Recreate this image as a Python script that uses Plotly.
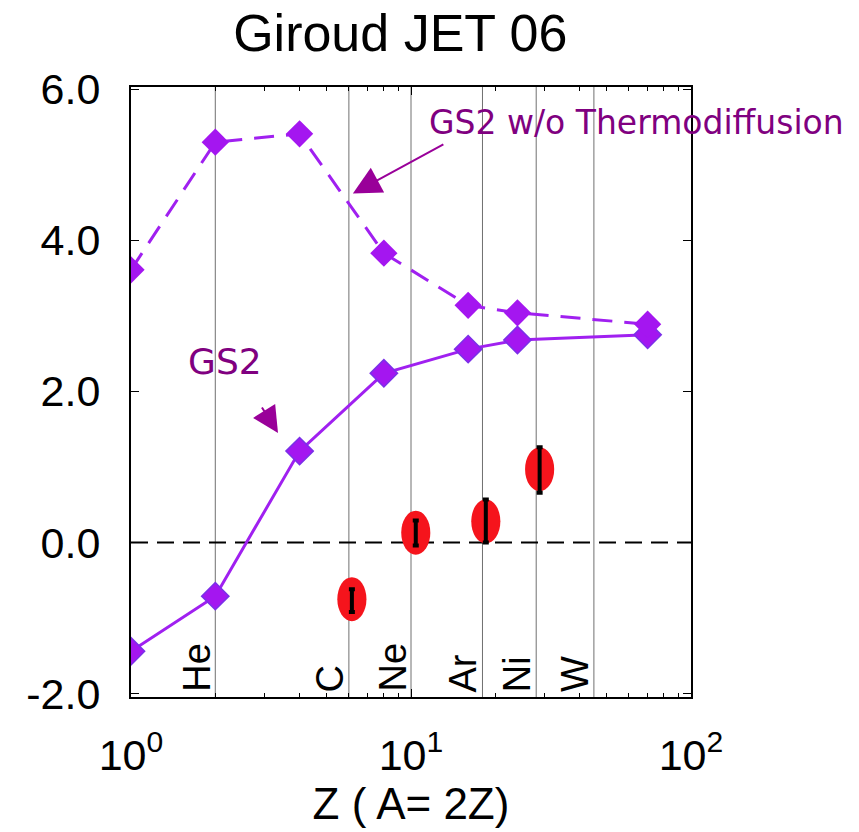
import numpy as np
import plotly.graph_objects as go

# ---------------- data ----------------
title_text = "Giroud JET 06"
x_title = "Z ( A= 2Z)"

z_model = [1, 2, 4, 8, 16, 24, 70]
gs2 = [-1.44, -0.71, 1.21, 2.24, 2.56, 2.68, 2.75]
gs2_no_td = [3.61, 5.30, 5.41, 3.83, 3.14, 3.04, 2.89]

exp_z = [6.15, 10.4, 18.5, 28.8]
exp_val = [-0.75, 0.13, 0.28, 0.97]
exp_hi = [-0.62, 0.29, 0.57, 1.26]
exp_lo = [-0.92, -0.04, 0.0, 0.66]

elements = ["He", "C", "Ne", "Ar", "Ni", "W"]
element_z = [2, 6, 10, 18, 28, 45]

x_tickvals = [1, 10, 100]
x_ticktext = ["10<sup>0</sup>", "10<sup>1</sup>", "10<sup>2</sup>"]
x_minor_vals = [2, 3, 4, 5, 6, 7, 8, 9, 20, 30, 40, 50, 60, 70, 80, 90]
y_tickvals = [-2, 0, 2, 4, 6]
y_ticktext = ["-2.0", "0.0", "2.0", "4.0", "6.0"]

# ---------------- styles ----------------
VIOLET = "#A416F0"
LINE_VIOLET = "#A020F0"
TXT_PURPLE = "#800080"
ARROW_PURPLE = "#990099"
RED = "#F5141C"
SANS = "Liberation Sans, Arial, sans-serif"
VERD = "DejaVu Sans, Verdana, sans-serif"
ELLIPSE_HALF_W_DEC = 0.052   # half width of experimental ellipses (decades)
ELLIPSE_HALF_H_PX = 22       # half height (pixels)

fig = go.Figure()

# experimental error bars
fig.add_trace(go.Scatter(
    x=exp_z, y=exp_val, mode="markers",
    marker=dict(size=1, color="rgba(0,0,0,0)"),
    error_y=dict(type="data", symmetric=False,
                 array=[h - v for h, v in zip(exp_hi, exp_val)],
                 arrayminus=[v - l for v, l in zip(exp_val, exp_lo)],
                 color="black", thickness=4, width=3),
    showlegend=False, hoverinfo="skip"))

# GS2
fig.add_trace(go.Scatter(
    x=z_model, y=gs2, mode="lines+markers",
    line=dict(color=LINE_VIOLET, width=3),
    marker=dict(symbol="diamond", size=21, color=VIOLET,
                line=dict(color="#7A30E8", width=1.5)),
    showlegend=False))

# GS2 w/o thermodiffusion
fig.add_trace(go.Scatter(
    x=z_model, y=gs2_no_td, mode="lines+markers",
    line=dict(color=LINE_VIOLET, width=3, dash="20px,12px"),
    marker=dict(symbol="diamond", size=21, color=VIOLET, line=dict(width=0)),
    showlegend=False))

shapes = []
for z in element_z:
    shapes.append(dict(type="line", xref="x", yref="paper", x0=z, x1=z, y0=0, y1=1,
                       line=dict(color="#707070", width=1), layer="below"))
f = 10 ** ELLIPSE_HALF_W_DEC
for z, v in zip(exp_z, exp_val):
    shapes.append(dict(type="circle", xref="x", yref="y",
                       ysizemode="pixel", yanchor=v,
                       x0=z / f, x1=z * f,
                       y0=-ELLIPSE_HALF_H_PX, y1=ELLIPSE_HALF_H_PX,
                       fillcolor=RED, line=dict(width=0), layer="below"))
shapes.append(dict(type="line", xref="paper", yref="y", x0=0, x1=1, y0=0, y1=0,
                   line=dict(color="black", width=2, dash="17px,9px"), layer="below"))

annotations = []
for name, z in zip(elements, element_z):
    annotations.append(dict(text=name, x=np.log10(z), xref="x", y=0, yref="paper",
                            xanchor="right", yanchor="bottom", textangle=-90,
                            showarrow=False, xshift=4, yshift=3,
                            font=dict(family=SANS, size=38, color="black")))

annotations.append(dict(text="GS2 w/o Thermodiffusion", x=np.log10(11.4), xref="x",
                        y=5.56, yref="y", xanchor="left", yanchor="middle",
                        showarrow=False,
                        font=dict(family=VERD, size=33, color=TXT_PURPLE)))
annotations.append(dict(text="", x=np.log10(6.2), xref="x", y=4.62, yref="y",
                        ax=92, ay=-50, showarrow=True, arrowhead=2, arrowsize=2.8,
                        arrowwidth=2, arrowcolor=ARROW_PURPLE))
annotations.append(dict(text="GS2", x=np.log10(2.17), xref="x", y=2.40, yref="y",
                        xanchor="center", yanchor="middle", showarrow=False,
                        font=dict(family=VERD, size=36, color=TXT_PURPLE)))
annotations.append(dict(text="", x=np.log10(3.35), xref="x", y=1.45, yref="y",
                        ax=-17, ay=-27, showarrow=True, arrowhead=2, arrowsize=2.6,
                        arrowwidth=2, arrowcolor=ARROW_PURPLE))

fig.update_layout(
    width=859, height=832,
    margin=dict(l=131, r=168, t=87, b=135),
    paper_bgcolor="white", plot_bgcolor="white",
    title=dict(text=title_text, x=0.466, xanchor="center", y=0.961, yanchor="middle",
               font=dict(family=SANS, size=52, color="black")),
    shapes=shapes, annotations=annotations,
    showlegend=False,
)

fig.update_xaxes(
    type="log", range=[0, 2],
    tickmode="array", tickvals=x_tickvals, ticktext=x_ticktext,
    ticks="inside", ticklen=8, tickwidth=1, tickcolor="black",
    minor=dict(tickmode="array", tickvals=x_minor_vals, ticks="inside", ticklen=4,
               tickcolor="black", showgrid=False),
    showgrid=False, zeroline=False,
    showline=True, linecolor="black", linewidth=2, mirror="ticks",
    tickfont=dict(family=SANS, size=43, color="black"),
    ticklabelstandoff=19,
    title=dict(text=x_title, font=dict(family=SANS, size=44, color="black"), standoff=5),
)
fig.update_yaxes(
    range=[-2.045, 6.03],
    tickmode="array", tickvals=y_tickvals, ticktext=y_ticktext,
    ticks="inside", ticklen=8, tickwidth=1, tickcolor="black",
    showgrid=False, zeroline=False,
    showline=True, linecolor="black", linewidth=2, mirror="ticks",
    tickfont=dict(family=SANS, size=43, color="black"),
    ticklabelstandoff=20,
)

fig.write_html("out.html")
